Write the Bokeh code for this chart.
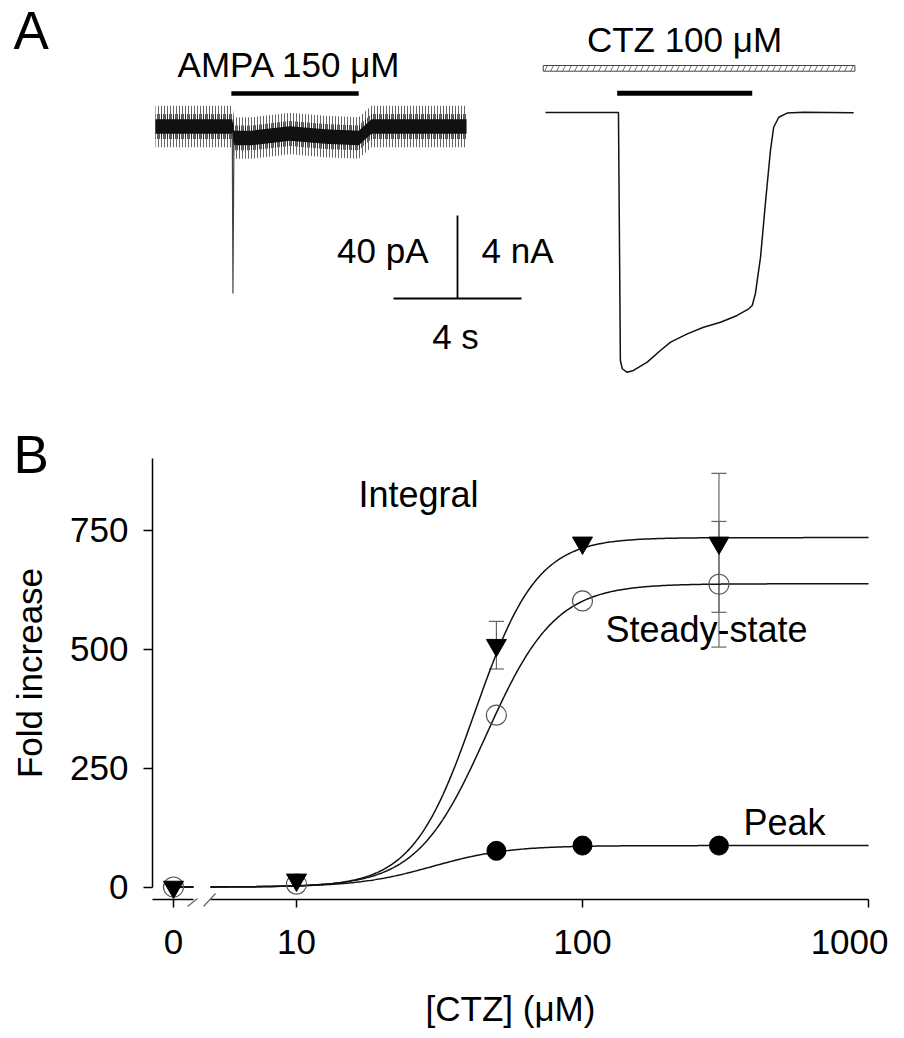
import numpy as np
from bokeh.plotting import figure
from bokeh.layouts import column
from bokeh.models import Range1d, FixedTicker, Whisker, TeeHead, ColumnDataSource
from bokeh.core.properties import value
from bokeh.embed import file_html
from bokeh.resources import INLINE

FONT = "Liberation Sans"

# ---------------- Panel A data ----------------
# AMPA 150 uM response (time s, current pA): mean level of the noisy trace
ampa_t = [0.0, 2.40, 2.46, 3.0, 4.2, 5.3, 6.35, 6.75, 9.72]
ampa_i = [0.0, 0.0, -5.5, -5.5, -3.4, -4.8, -5.5, 0.0, 0.0]
ampa_noise = [3.5, 6.0, 10.0]       # pA half-widths: core, dense, spike envelope
ampa_spike_t = [2.40, 2.42, 2.45]
ampa_spike_i = [-3.0, -80.5, -8.0]
ampa_bar = [2.37, 6.35]             # AMPA application (s)

# CTZ 100 uM + AMPA response (time s, current nA)
ctz_t = [0.0, 2.28, 2.34, 2.40, 2.55, 2.75, 3.18, 3.59, 3.91, 4.43, 4.94, 5.47,
         5.99, 6.35, 6.46, 6.56, 6.72, 6.88, 7.03, 7.13, 7.29, 7.55, 8.06, 9.63]
ctz_i = [0.0, 0.0, -11.95, -12.35, -12.52, -12.43, -12.03, -11.47, -11.07, -10.67,
         -10.35, -10.11, -9.78, -9.46, -9.30, -8.72, -6.97, -4.24, -1.83, -0.71,
         -0.23, -0.03, 0.01, -0.01]
ctz_bar = [2.24, 6.46]              # AMPA application (s)
ctz_pre_bar = [-0.07, 9.67]         # CTZ pre-application (hatched)

scale_t = 4.0      # s
scale_pA = 40.0    # pA (left trace) / 4 nA (right trace)

# ---------------- Panel B data ----------------
conc = [0, 10, 50, 100, 300]            # uM
integral = [0, 15, 508, 723, 723]
integral_se = [0, 0, 50, 0, 146]
steady = [0, 6, 361, 601, 636]
steady_se = [0, 0, 0, 0, 132]
peak_conc = [50, 100, 300]
peak = [76, 87, 87]

# Hill fits (top, EC50 uM, nH)
fit_integral = (734, 42.0, 4.0)
fit_steady = (637, 46.0, 3.6)
fit_peak = (87, 30.0, 3.3)

x_ticks = [0, 10, 100, 1000]
x_tick_labels = ["0", "10", "100", "1000"]
y_ticks = [0, 250, 500, 750]

# ---------------- layout calibration (page px) ----------------
OX, OY = 0, 0
W, HA, HB = 888, 398, 632
TB = 0.37   # text baseline correction (em)

# panel A: left trace (s, pA), right trace (s, nA)
def ax_(sx): return (sx - 155) / 32.0
def ay_(sy): return (126 - sy) / 2.075
def bx_(sx): return (sx - 545) / 32.0
def by_(sy): return (112 - sy) / 20.75
# panel B: log concentration, fold increase
def cx_(sx): return 10 ** (1 + (sx - 296) / 286.0)
def cy_(sy): return (886.5 - sy) / 0.476

# --------------- Panel A ---------------
pA = figure(width=W, height=HA, x_range=Range1d(ax_(OX), ax_(OX + W)),
            y_range=Range1d(ay_(OY + HA), ay_(OY)), output_backend="svg",
            toolbar_location=None, min_border=0,
            x_axis_location=None, y_axis_location=None)
pA.extra_x_ranges = {"ct": Range1d(bx_(OX), bx_(OX + W))}
pA.extra_y_ranges = {"ci": Range1d(by_(OY + HA), by_(OY))}
pA.grid.visible = False
pA.outline_line_color = None

at = np.array(ampa_t)
ai = np.array(ampa_i)
pA.varea(x=at, y1=ai - ampa_noise[2], y2=ai + ampa_noise[2], fill_color=None,
         hatch_pattern="|", hatch_color="#666666", hatch_scale=3, hatch_weight=1)
pA.varea(x=at, y1=ai - ampa_noise[1], y2=ai + ampa_noise[1], fill_color=None,
         hatch_pattern="|", hatch_color="#111111", hatch_scale=2, hatch_weight=1.4)
pA.varea(x=at, y1=ai - ampa_noise[0], y2=ai + ampa_noise[0], fill_color="#111111")
pA.line(ampa_spike_t, ampa_spike_i, line_color="#444444", line_width=1.2)
pA.line(ampa_bar, [ay_(93)] * 2, line_color="black", line_width=4.5)

pA.line(ctz_t, ctz_i, x_range_name="ct", y_range_name="ci", line_color="#111111", line_width=1.5)
pA.line(ctz_bar, [by_(92.7)] * 2, x_range_name="ct", y_range_name="ci",
        line_color="black", line_width=5)
pA.quad(left=[ctz_pre_bar[0]], right=[ctz_pre_bar[1]], bottom=[by_(70.7)], top=[by_(65)],
        x_range_name="ct", y_range_name="ci", fill_color="white",
        hatch_pattern="/", hatch_color="#777777", hatch_scale=12, hatch_weight=1,
        line_color="#444444", line_width=1)

# scale bars (left-trace units)
sb_x0, sb_y0 = ax_(393), ay_(298)
pA.line([sb_x0, sb_x0 + scale_t], [sb_y0, sb_y0], line_color="black", line_width=1.8)
pA.line([sb_x0 + scale_t / 2] * 2, [sb_y0, sb_y0 + scale_pA], line_color="black", line_width=1.8)

def txtA(sx, sy, s, align, fs=35, right=False):
    kw = dict(text_font=value(FONT), text_font_size=f"{fs}px", text_color="black",
              text_baseline="alphabetic", text_align=align)
    if right:
        pA.text(x=[bx_(sx)], y=[by_(sy - TB * fs)], text=[s], x_range_name="ct",
                y_range_name="ci", **kw)
    else:
        pA.text(x=[ax_(sx)], y=[ay_(sy - TB * fs)], text=[s], **kw)

txtA(289, 77, "AMPA 150 μM", "center")
txtA(684, 52, "CTZ 100 μM", "center", right=True)
txtA(428, 263, "40 pA", "right")
txtA(481, 263, "4 nA", "left")
txtA(455, 349, "4 s", "center")
txtA(13, 50, "A", "left", fs=53)

# --------------- Panel B ---------------
TOP = OY + HA
pB = figure(width=W, height=HB, x_axis_type="log",
            x_range=Range1d(cx_(OX), cx_(OX + W)), y_range=Range1d(cy_(TOP + HB), cy_(TOP)),
            output_backend="svg", toolbar_location=None, min_border=0)
pB.grid.visible = False
pB.outline_line_color = None

ZERO_X = cx_(173)                      # display position of 0 uM
BREAK_LO, BREAK_HI = cx_(193), cx_(210)
X_AXIS_Y = cy_(899)
Y_AXIS_X = cx_(152)

def xpos(c):
    return [ZERO_X if v == 0 else v for v in c]

def hill(x, top, ec50, n):
    return top / (1.0 + (ec50 / x) ** n)

xs = np.logspace(np.log10(BREAK_HI), 3, 400)
for prm in (fit_integral, fit_steady, fit_peak):
    pB.line(xs, hill(xs, *prm), line_color="#111111", line_width=1.5)
    pB.line([ZERO_X, BREAK_LO], [0, 0], line_color="#111111", line_width=1.5)

def whisk(c, m, se):
    keep = [i for i, s in enumerate(se) if s > 0]
    src = ColumnDataSource(dict(x=[xpos([c[i]])[0] for i in keep],
                                upper=[m[i] + se[i] for i in keep],
                                lower=[m[i] - se[i] for i in keep]))
    pB.add_layout(Whisker(source=src, base="x", upper="upper", lower="lower",
                          dimension="height", line_color="#666666", line_width=1.2,
                          upper_head=TeeHead(size=15, line_color="#666666", line_width=1.2),
                          lower_head=TeeHead(size=15, line_color="#666666", line_width=1.2),
                          level="underlay"))

whisk(conc, integral, integral_se)
whisk(conc, steady, steady_se)

pB.scatter(xpos(conc), steady, marker="circle", size=20, fill_color=None,
           line_color="#555555", line_width=1.2)
pB.scatter(peak_conc, peak, marker="circle", size=19, fill_color="black", line_color="black")
pB.scatter(xpos(conc), integral, marker="inverted_triangle", size=20,
           fill_color="black", line_color="black")

# x-axis line with break marks
pB.segment(x0=[Y_AXIS_X, BREAK_HI], y0=[X_AXIS_Y] * 2, x1=[BREAK_LO, 1000], y1=[X_AXIS_Y] * 2,
           line_color="black", line_width=1.5)
pB.segment(x0=[cx_(187), cx_(203)], y0=[cy_(906)] * 2, x1=[cx_(197), cx_(215)],
           y1=[cy_(898), cy_(893)], line_color="#666666", line_width=1.2)

xax = pB.xaxis[0]
xax.fixed_location = X_AXIS_Y
xax.bounds = (Y_AXIS_X, 1000.0)
xax.ticker = FixedTicker(ticks=xpos(x_ticks))
xax.major_label_overrides = {p: s for p, s in zip(xpos(x_ticks), x_tick_labels)}
xax.axis_line_color = None
xax.major_tick_in = 0
xax.major_tick_out = 8
xax.major_tick_line_width = 1.5
xax.minor_tick_line_color = None
xax.major_label_standoff = 22
xax.major_label_text_font = FONT
xax.major_label_text_font_size = "35px"
xax.major_label_text_color = "black"
xax.axis_label = "[CTZ] (μM)"
xax.axis_label_text_font = FONT
xax.axis_label_text_font_size = "35px"
xax.axis_label_text_font_style = "normal"
xax.axis_label_text_color = "black"
xax.axis_label_standoff = 32

yax = pB.yaxis[0]
yax.fixed_location = Y_AXIS_X
yax.ticker = FixedTicker(ticks=y_ticks)
yax.bounds = (0, cy_(458))
yax.axis_line_width = 1.5
yax.major_tick_in = 0
yax.major_tick_out = 9
yax.major_tick_line_width = 1.5
yax.minor_tick_line_color = None
yax.major_label_standoff = 15
yax.major_label_text_font = FONT
yax.major_label_text_font_size = "35px"
yax.major_label_text_color = "black"
yax.axis_label = "Fold increase"
yax.axis_label_text_font = FONT
yax.axis_label_text_font_size = "35px"
yax.axis_label_text_font_style = "normal"
yax.axis_label_text_color = "black"
yax.axis_label_standoff = 18

def txtB(sx, sy, s, fs=36):
    pB.text(x=[cx_(sx)], y=[cy_(sy - TB * fs)], text=[s], text_font=value(FONT),
            text_font_size=f"{fs}px", text_color="black", text_baseline="alphabetic",
            text_align="left")

txtB(358, 507, "Integral")
txtB(605, 642, "Steady-state")
txtB(743, 835, "Peak")
txtB(13, 474, "B", fs=53)

layout = column(pA, pB, spacing=0)
open("out.html", "w").write(file_html(layout, INLINE))
